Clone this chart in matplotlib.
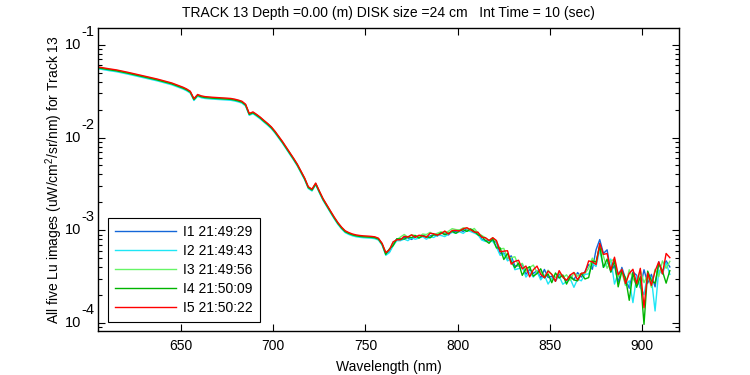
import numpy as np
import matplotlib
matplotlib.use("Agg")
import matplotlib.pyplot as plt
import matplotlib.transforms as mtransforms
from matplotlib.ticker import LogLocator, NullFormatter

# wavelength grid (nm), 2 nm step
wavelength = np.arange(605, 916, 2)

# common shape of the five spectra, log10 of Lu
base_log = [
    -1.248, -1.255, -1.262, -1.268, -1.274, -1.280, -1.288, -1.296, -1.305, -1.314,
    -1.324, -1.332, -1.341, -1.350, -1.358, -1.367, -1.378, -1.389, -1.399, -1.410,
    -1.421, -1.436, -1.452, -1.466, -1.485, -1.510, -1.590, -1.545, -1.560, -1.568,
    -1.572, -1.575, -1.578, -1.580, -1.582, -1.585, -1.588, -1.595, -1.605, -1.618,
    -1.650, -1.750, -1.733, -1.760, -1.790, -1.825, -1.858, -1.895, -1.943, -1.998,
    -2.052, -2.112, -2.172, -2.232, -2.295, -2.370, -2.445, -2.540, -2.566, -2.500,
    -2.586, -2.668, -2.735, -2.800, -2.865, -2.925, -2.975, -3.015, -3.035, -3.050,
    -3.060, -3.066, -3.070, -3.072, -3.075, -3.080, -3.095, -3.150, -3.260, -3.210,
    -3.155, -3.112, -3.092, -3.085, -3.082, -3.079, -3.076, -3.073, -3.070, -3.066,
    -3.062, -3.057, -3.052, -3.046, -3.038, -3.030, -3.022, -3.012, -3.006, -3.003,
    -3.002, -3.004, -3.010, -3.040, -3.075, -3.110, -3.120, -3.100, -3.160, -3.210,
    -3.255, -3.290, -3.325, -3.355, -3.383, -3.406, -3.425, -3.442, -3.455, -3.466,
    -3.475, -3.482, -3.490, -3.495, -3.500, -3.505, -3.512, -3.520, -3.522, -3.515,
    -3.505, -3.495, -3.465, -3.430, -3.380, -3.310, -3.260, -3.280, -3.330, -3.390,
    -3.430, -3.460, -3.480, -3.495, -3.505, -3.520, -3.525, -3.530, -3.535, -3.520,
    -3.495, -3.470, -3.430, -3.410, -3.390, -3.375,
]

# offset of each image before 761 nm (hundredths of a decade)
offset_i1 = 0
offset_i2 = -1
offset_i3 = 0.5
offset_i4 = 0
offset_i5 = 1

# deviations from 761 nm to 915 nm (hundredths of a decade)
dev_i1 = [
    1, -2, 0, 2, -1, 1, 0, -2, 1, 0, 2, -1, 0, 1, -1, 2, 0, -2, 1, 0, 1, -1, 2, 0, -1, 1, -2, 0, 1, -1,
    3, -4, 1, -2, 5, -3, 0, 4, -5, 2, -1, 3, -4, 6, -2, 0, -5, 3, 1, -3, 4, -2, 5, -1, 2,
    6, -4, 10, 16, 3, 12, -6, 5, -10, 8, -3, -12, 7, 4, -9, 11, -5, 2, -14, 9, -4, 6, -2,
]
dev_i2 = [
    -1, -3, -1, 0, -2, -1, -3, 0, -2, -1, 0, -3, -1, -2, 0, -1, -3, -1, 0, -2, -1, -3, 0, -1, -2, -1, -3, -1, 0, -2,
    -2, -6, 0, -4, 2, -7, -3, 1, -8, -1, -5, 2, -6, 0, -9, -2, -4, 1, -7, -3, 0, -10, -2, -5, -1,
    -4, 2, -8, 5, -12, -3, 8, -15, 0, 6, -10, -4, -26, 3, -8, -16, 5, -2, -40, 0, -6, 4, -10,
]
dev_i3 = [
    2, 0, 3, 1, 2, 4, 1, 3, 2, 0, 3, 2, 4, 1, 2, 3, 1, 2, 4, 2, 1, 3, 2, 0, 3, 1, 2, 3, 1, 2,
    4, 1, 6, -1, 3, 7, 0, 5, -2, 4, 8, 1, 3, -3, 6, 2, -1, 5, 0, 4, -2, 6, 1, 3, 0,
    2, 8, -5, 10, 0, -8, 6, 12, -4, 3, -10, 8, 0, -6, 10, -3, 4, -12, 5, -7, 8, -2, 4,
]
dev_i4 = [
    0, 1, -1, 2, 0, -1, 1, 0, 2, -1, 1, 0, -2, 1, 0, 2, -1, 0, 1, -2, 0, 1, -1, 2, 0, -1, 1, 0, -2, 1,
    -3, 2, -6, 4, -1, -5, 3, -8, 1, 5, -4, 0, 6, -3, 2, -7, 4, -1, 3, -6, 2, -2, -4, 3, -6,
    -8, 5, -3, 9, -12, 2, -6, 10, -15, 4, -2, -25, 6, -9, 3, -48, 8, -5, -10, 7, -3, -18, -6,
]
dev_i5 = [
    2, 0, 3, 1, -1, 2, 1, 3, 0, 2, 1, -1, 3, 2, 0, 1, 3, -1, 2, 1, 0, 2, 3, 1, -1, 2, 0, 3, 1, 2,
    5, -2, 3, 7, -4, 2, 6, -1, 4, -6, 3, 8, 0, -3, 5, 2, -5, 7, 1, -2, 4, 6, -3, 3, 1,
    10, 4, -6, 12, 2, 8, -4, 14, -2, 6, -8, 4, 10, -5, 12, -30, 6, -10, 3, 9, -6, 14, 8,
]

labels = ["I1 21:49:29", "I2 21:49:43", "I3 21:49:56", "I4 21:50:09", "I5 21:50:22"]
colors = ["#1466d8", "#1ee6f5", "#66f566", "#00b400", "#ff0000"]
offsets = [offset_i1, offset_i2, offset_i3, offset_i4, offset_i5]
devs = [dev_i1, dev_i2, dev_i3, dev_i4, dev_i5]
y_decades = [-1, -2, -3, -4]

plt.rcParams["font.family"] = ["Liberation Sans", "DejaVu Sans"]
plt.rcParams["mathtext.fontset"] = "custom"
plt.rcParams["mathtext.rm"] = "Liberation Sans"
plt.rcParams["mathtext.it"] = "Liberation Sans"
plt.rcParams["font.size"] = 10

fig = plt.figure(figsize=(7.5, 3.75), dpi=100)
ax = fig.add_axes([0.1307, 0.1173, 0.7747, 0.808])

base = np.array(base_log)
n_early = len(base) - len(dev_i1)
for lab, col, off, dev in zip(labels, colors, offsets, devs):
    d = np.concatenate([np.full(n_early, off), np.array(dev, dtype=float)]) / 100.0
    ax.plot(wavelength, 10 ** (base + d), color=col, lw=1.0, label=lab)

ax.set_yscale("log")
ax.set_xlim(605, 920)
ax.set_ylim(8.2e-5, 0.152)
ax.set_xticks([650, 700, 750, 800, 850, 900])
ax.yaxis.set_major_locator(LogLocator(base=10, numticks=10))
ax.yaxis.set_minor_locator(LogLocator(base=10, subs=np.arange(2, 10), numticks=10))
ax.yaxis.set_minor_formatter(NullFormatter())
ax.yaxis.set_major_formatter(NullFormatter())
ax.tick_params(which="both", direction="in", top=True, right=True, labelsize=10)
ax.tick_params(which="major", length=5, width=0.8)
ax.tick_params(which="minor", length=3, width=0.8)
ax.tick_params(axis="x", pad=6)
for s in ax.spines.values():
    s.set_linewidth(1.0)

# MATLAB-style "10" with a raised exponent
trans = mtransforms.blended_transform_factory(ax.transAxes, ax.transData)
for k in y_decades:
    ax.text(-0.029, 10.0 ** k, "10", transform=trans, ha="right", va="center",
            fontsize=10.5)
    off = mtransforms.offset_copy(trans, fig=fig, x=0, y=13, units="dots")
    ax.text(-0.029, 10.0 ** k, "%d" % k, transform=off, ha="left", va="center",
            fontsize=10.5)

ax.set_xlabel("Wavelength (nm)", fontsize=10, labelpad=5)
ax.set_ylabel(r"All five Lu images (uW/cm$^2$/sr/nm) for Track 13", fontsize=10,
              labelpad=20)
ax.set_title("TRACK 13 Depth =0.00 (m) DISK size =24 cm   Int Time = 10 (sec)",
             fontsize=10, pad=8)

leg = ax.legend(loc="lower left", bbox_to_anchor=(0.017, 0.03), borderaxespad=0,
                fancybox=False, framealpha=1, edgecolor="black", fontsize=10,
                handlelength=4.4, handletextpad=0.5, labelspacing=0.36, borderpad=0.5)
leg.get_frame().set_linewidth(0.8)

fig.savefig("out.png", dpi=100)
